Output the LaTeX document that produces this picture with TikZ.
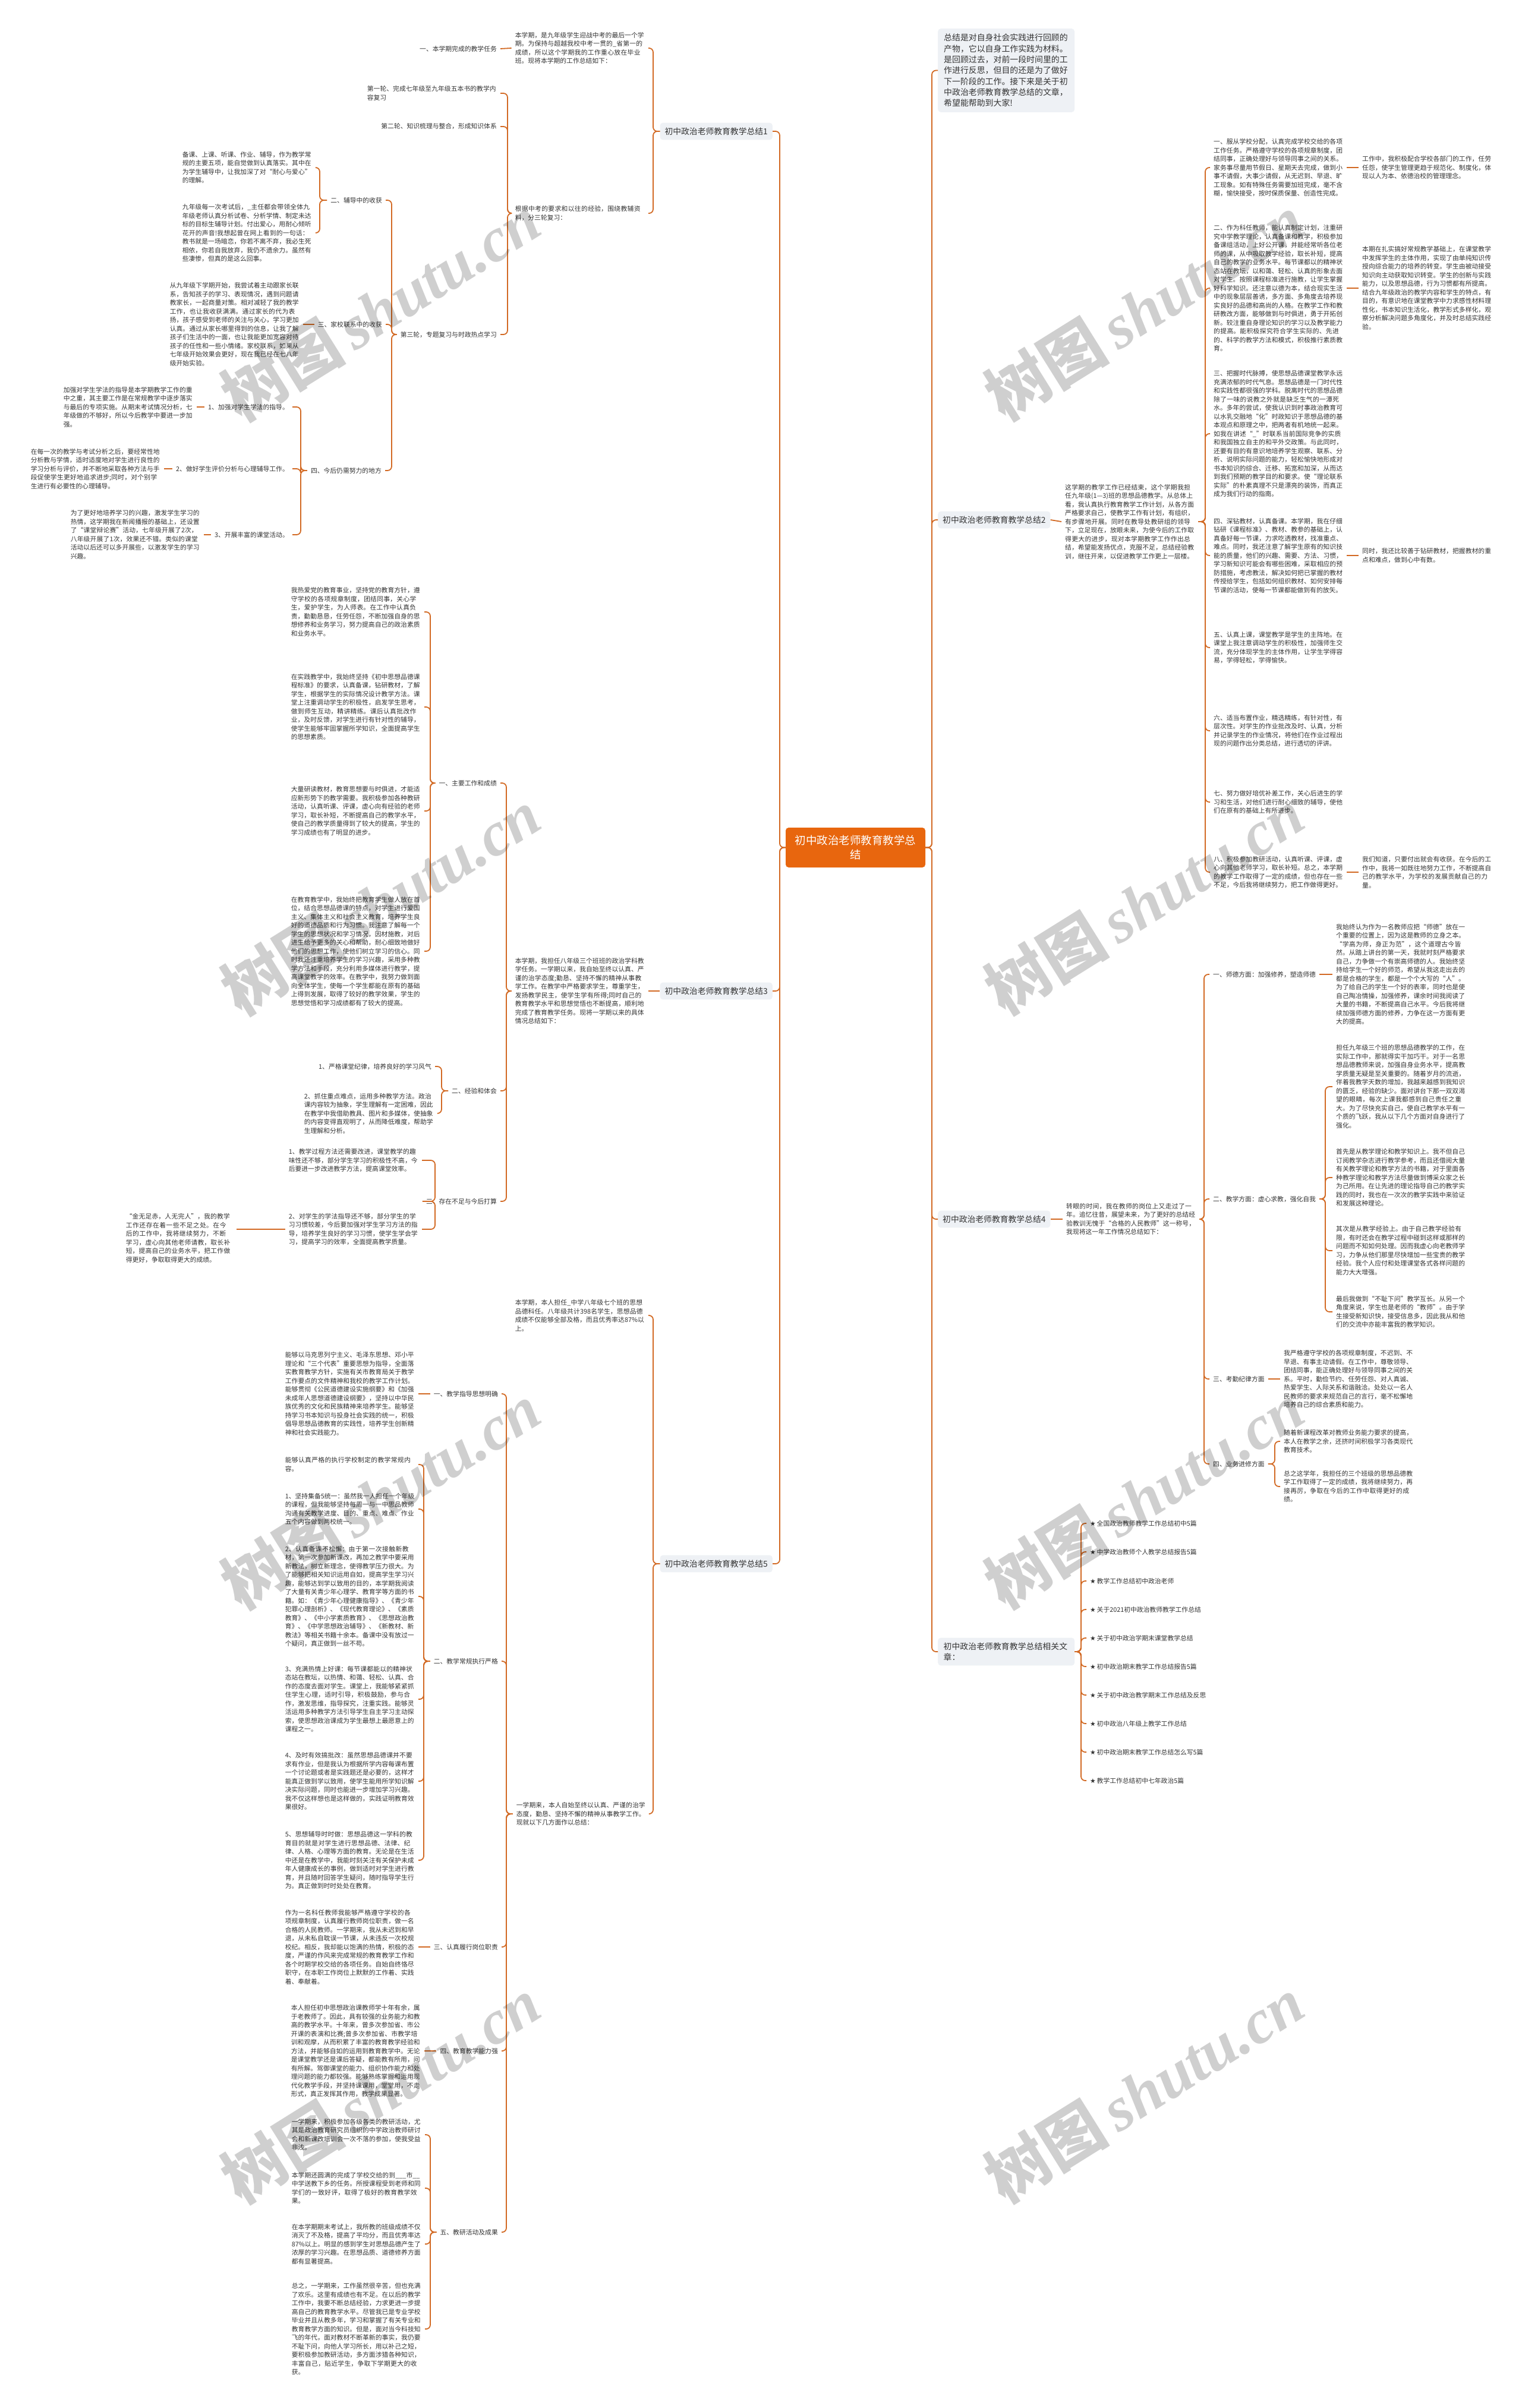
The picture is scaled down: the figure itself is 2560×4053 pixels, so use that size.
\documentclass[tikz,border=0pt]{standalone}
\usepackage{fontspec}
\setmainfont{Noto Sans CJK SC}
\newfontfamily\dejavu{DejaVu Sans}
\newfontfamily\wmserif{Liberation Serif}
\XeTeXlinebreaklocale "zh"
\XeTeXlinebreakskip=0pt plus 1pt
\definecolor{lnc}{RGB}{210,105,35}
\definecolor{ctrc}{RGB}{232,102,14}
\definecolor{boxc}{RGB}{238,241,245}
\definecolor{txc}{RGB}{51,51,51}
\newcommand{\fsb}{\fontsize{10.8}{14.5}\selectfont}
\newcommand{\fsm}{\fontsize{13.8}{18}\selectfont}
\newcommand{\lconn}[3]{\draw[ln] (#1.west) -- (#1.west -| #2) |- (#3.east);}
\newcommand{\rconn}[3]{\draw[ln] (#1.east) -- (#1.east -| #2) |- (#3.west);}
\newcommand{\str}{{\dejavu ★}\,}
\tikzset{
 ln/.style={draw=lnc, line width=1.8pt, rounded corners=7pt},
 tb/.style={font=\fsb, text=txc, text width=218pt, align=left, inner xsep=6pt, inner ysep=1pt},
 lb/.style={font=\fsb, text=txc, inner xsep=6pt, inner ysep=1pt},
 mainbox/.style={font=\fsm, text=txc, fill=boxc, rounded corners=5pt, inner xsep=8pt, inner ysep=8pt},
 ctrbox/.style={font=\fontsize{18.5}{23.5}\selectfont, text=white, fill=ctrc, rounded corners=5pt, text width=206pt, align=center, minimum width=235pt, minimum height=67pt},
 introbox/.style={font=\fontsize{13.9}{18.3}\selectfont, text=txc, fill=boxc, rounded corners=5pt, text width=210pt, align=left, inner xsep=10pt, inner ysep=9pt},
 wm/.style={font=\fontsize{105}{110}\selectfont\bfseries, text=black, text opacity=0.19, rotate=32}
}
\begin{document}
\begin{tikzpicture}[x=1pt,y=-1pt]
\fill[white] (0,0) rectangle (2560,4053);
\useasboundingbox (0,0) rectangle (2560,4053);
% spines
\coordinate (lsp) at (1312,0);
\coordinate (rsp) at (1568,0);
\coordinate (sp1) at (1099,0);
\coordinate (sp1b) at (854,0);
\coordinate (sp1c) at (659,0);
\coordinate (sp1d) at (538,0);
\coordinate (sp1f) at (506,0);
\coordinate (sp3) at (1099,0);
\coordinate (sp3b) at (852,0);
\coordinate (sp3c) at (724,0);
\coordinate (sp3d) at (743,0);
\coordinate (sp3e) at (732,0);
\coordinate (sp5) at (1099,0);
\coordinate (sp5b) at (852,0);
\coordinate (sp5d) at (713,0);
\coordinate (sp5g) at (724,0);
\coordinate (sp2b) at (2028,0);
\coordinate (sp4b) at (2026,0);
\coordinate (sp4d) at (2230,0);
\coordinate (sp4f) at (2145,0);
\coordinate (sp6) at (1819,0);

% center
\node[ctrbox] (ctr) at (1439.5,1426.5) {初中政治老师教育教学总\\结};

% ================= 总结1 =================
\node[mainbox, anchor=east] (s1) at (1300,221) {初中政治老师教育教学总结1};
\node[tb, anchor=east] (t1a) at (1091,81) {本学期，是九年级学生迎战中考的最后一个学期。为保持与超越我校中考一贯的\_省第一的成绩，所以这个学期我的工作重心放在毕业班。现将本学期的工作总结如下：};
\node[lb, anchor=east] (l1a) at (842,82) {一、本学期完成的教学任务};
\node[tb, anchor=east] (t1b) at (1091,359) {根据中考的要求和以往的经验，围绕教辅资料，分三轮复习：};
\node[tb, anchor=east] (l1b1) at (842,157) {第一轮、完成七年级至九年级五本书的教学内容复习};
\node[lb, anchor=east] (l1b2) at (842,213) {第二轮、知识梳理与整合，形成知识体系};
\node[lb, anchor=east] (l1b3) at (842,563) {第三轮，专题复习与时政热点学习};
\node[lb, anchor=east] (l1c1) at (649,337) {二、辅导中的收获};
\node[lb, anchor=east] (l1c2) at (649,546) {三、家校联系中的收获};
\node[lb, anchor=east] (l1c3) at (648,792) {四、今后仍需努力的地方};
\node[tb, anchor=east] (t1d1) at (531,282) {备课、上课、听课、作业、辅导，作为教学常规的主要五项，能自觉做到认真落实。其中在为学生辅导中，让我加深了对“耐心与爱心”的理解。};
\node[tb, anchor=east] (t1d2) at (531,392) {九年级每一次考试后，\_主任都会带领全体九年级老师认真分析试卷、分析学情、制定未达标的目标生辅导计划。付出爱心，用耐心倾听花开的声音!我想起曾在网上看到的一句话：教书就是一场暗恋，你若不离不弃，我必生死相依，你若自我放弃，我仍不遗余力。虽然有些凄惨，但真的是这么回事。};
\node[tb, anchor=east] (t1e) at (510,546) {从九年级下学期开始，我尝试着主动跟家长联系，告知孩子的学习、表现情况，遇到问题请教家长，一起商量对策。相对减轻了我的教学工作，也让我收获满满。通过家长的代为表扬，孩子感受到老师的关注与关心，学习更加认真。通过从家长哪里得到的信息，让我了解孩子们生活中的一面，也让我能更加宽容对待孩子的任性和一些小情绪。家校联系，如果从七年级开始效果会更好，现在我已经在七八年级开始实验。};
\node[lb, anchor=east] (l1f1) at (492,685) {1、加强对学生学法的指导。};
\node[lb, anchor=east] (l1f2) at (492,789) {2、做好学生评价分析与心理辅导工作。};
\node[lb, anchor=east] (l1f3) at (492,900) {3、开展丰富的课堂活动。};
\node[tb, anchor=east] (t1f1) at (331,685) {加强对学生学法的指导是本学期教学工作的重中之重，其主要工作是在常规教学中逐步落实与最后的专项实施。从期末考试情况分析，七年级做的不够好，所以今后教学中要进一步加强。};
\node[tb, anchor=east] (t1f2) at (276,789) {在每一次的教学与考试分析之后，要经常性地分析教与学情，适时适度地对学生进行良性的学习分析与评价，并不断地采取各种方法与手段促使学生更好地追求进步;同时，对个别学生进行有必要性的心理辅导。};
\node[tb, anchor=east] (t1f3) at (343,900) {为了更好地培养学习的兴趣，激发学生学习的热情，这学期我在新闻播报的基础上，还设置了“课堂辩论赛”活动，七年级开展了2次，八年级开展了1次，效果还不错。类似的课堂活动以后还可以多开展些，以激发学生的学习兴趣。};

% ================= 总结3 =================
\node[mainbox, anchor=east] (s3) at (1300,1668) {初中政治老师教育教学总结3};
\node[tb, anchor=east] (t3a) at (1091,1668) {本学期，我担任八年级三个班班的政治学科教学任务。一学期以来，我自始至终以认真、严谨的治学态度;勤恳、坚持不懈的精神从事教学工作。在教学中严格要求学生，尊重学生，发扬教学民主，使学生学有所得;同时自己的教育教学水平和思想觉悟也不断提高，顺利地完成了教育教学任务。现将一学期以来的具体情况总结如下：};
\node[lb, anchor=east] (l3b1) at (842,1318) {一、主要工作和成绩};
\node[lb, anchor=east] (l3b2) at (842,1836) {二、经验和体会};
\node[lb, anchor=east] (l3b3) at (842,2022) {三、存在不足与今后打算};
\node[tb, anchor=east] (t3c1) at (714,1030) {我热爱党的教育事业，坚持党的教育方针，遵守学校的各项规章制度，团结同事，关心学生，爱护学生，为人师表。在工作中认真负责，勤勤恳恳，任劳任怨，不断加强自身的思想修养和业务学习，努力提高自己的政治素质和业务水平。};
\node[tb, anchor=east] (t3c2) at (714,1190) {在实践教学中，我始终坚持《初中思想品德课程标准》的要求，认真备课，钻研教材，了解学生，根据学生的实际情况设计教学方法。课堂上注重调动学生的积极性，启发学生思考，做到师生互动，精讲精练。课后认真批改作业，及时反馈，对学生进行有针对性的辅导，使学生能够牢固掌握所学知识，全面提高学生的思想素质。};
\node[tb, anchor=east] (t3c3) at (714,1365) {大量研读教材，教育思想要与时俱进，才能适应新形势下的教学需要。我积极参加各种教研活动，认真听课、评课，虚心向有经验的老师学习，取长补短，不断提高自己的教学水平，使自己的教学质量得到了较大的提高，学生的学习成绩也有了明显的进步。};
\node[tb, anchor=east] (t3c4) at (714,1601) {在教育教学中，我始终把教育学生做人放在首位，结合思想品德课的特点，对学生进行爱国主义、集体主义和社会主义教育，培养学生良好的道德品质和行为习惯。我注意了解每一个学生的思想状况和学习情况，因材施教，对后进生给予更多的关心和帮助，耐心细致地做好他们的思想工作，使他们树立学习的信心。同时我还注重培养学生的学习兴趣，采用多种教学方法和手段，充分利用多媒体进行教学，提高课堂教学的效率。在教学中，我努力做到面向全体学生，使每一个学生都能在原有的基础上得到发展，取得了较好的教学效果，学生的思想觉悟和学习成绩都有了较大的提高。};
\node[lb, anchor=east] (t3d1) at (732,1795) {1、严格课堂纪律，培养良好的学习风气};
\node[tb, anchor=east] (t3d2) at (736,1874) {2、抓住重点难点，运用多种教学方法。政治课内容较为抽象，学生理解有一定困难，因此在教学中我借助教具、图片和多媒体，使抽象的内容变得直观明了，从而降低难度，帮助学生理解和分析。};
\node[tb, anchor=east] (t3e1) at (710,1953) {1、教学过程方法还需要改进，课堂教学的趣味性还不够，部分学生学习的积极性不高，今后要进一步改进教学方法，提高课堂效率。};
\node[tb, anchor=east] (t3e2) at (710,2069) {2、对学生的学法指导还不够，部分学生的学习习惯较差，今后要加强对学生学习方法的指导，培养学生良好的学习习惯，使学生学会学习，提高学习的效率，全面提高教学质量。};
\node[tb, anchor=east, text width=180pt] (t3e3) at (398,2084) {“金无足赤，人无完人”，我的教学工作还存在着一些不足之处。在今后的工作中，我将继续努力，不断学习，虚心向其他老师请教，取长补短，提高自己的业务水平，把工作做得更好，争取取得更大的成绩。};

% ================= 总结5 =================
\node[mainbox, anchor=east] (s5) at (1300,2632) {初中政治老师教育教学总结5};
\node[tb, anchor=east] (t5a) at (1091,2214) {本学期，本人担任\_中学八年级七个班的思想品德科任。八年级共计398名学生，思想品德成绩不仅能够全部及格，而且优秀率达87\%以上。};
\node[tb, anchor=east] (t5b) at (1093,3053) {一学期来，本人自始至终以认真、严谨的治学态度，勤恳、坚持不懈的精神从事教学工作。现就以下几方面作以总结：};
\node[lb, anchor=east] (l5b1) at (844,2346) {一、教学指导思想明确};
\node[lb, anchor=east] (l5b2) at (844,2796) {二、教学常规执行严格};
\node[lb, anchor=east] (l5b3) at (844,3277) {三、认真履行岗位职责};
\node[lb, anchor=east] (l5b4) at (844,3452) {四、教育教学能力强};
\node[lb, anchor=east] (l5b5) at (844,3757) {五、教研活动及成果};
\node[tb, anchor=east] (t5c) at (704,2346) {能够以马克思列宁主义、毛泽东思想、邓小平理论和“三个代表”重要思想为指导，全面落实教育教学方针，实施有关市教育局关于教学工作要点的文件精神和我校的教学工作计划。能够贯彻《公民道德建设实施纲要》和《加强未成年人思想道德建设纲要》，坚持以中华民族优秀的文化和民族精神来培养学生。能够坚持学习书本知识与投身社会实践的统一，积极倡导思想品德教育的实践性，培养学生创新精神和社会实践能力。};
\node[tb, anchor=east] (t5d1) at (704,2465) {能够认真严格的执行学校制定的教学常规内容。};
\node[tb, anchor=east] (t5d2) at (704,2540) {1、坚持集备5统一：虽然我一人担任一个年级的课程，但我能够坚持每周一与一中思品教师沟通有关教学进度、目的、重点、难点、作业五个内容做到两校统一。};
\node[tb, anchor=east] (t5d3) at (704,2687) {2、认真备课不松懈：由于第一次接触新教材，第一次参加新课改，再加之教学中要采用新教法，树立新理念，使得教学压力很大。为了能够把相关知识运用自如，提高学生学习兴趣，能够达到学以致用的目的，本学期我阅读了大量有关青少年心理学、教育学等方面的书籍。如：《青少年心理健康指导》、《青少年犯罪心理剖析》、《现代教育理论》、《素质教育》、《中小学素质教育》、《思想政治教育》、《中学思想政治辅导》、《新教材、新教法》等相关书籍十余本。备课中没有放过一个疑问，真正做到一丝不苟。};
\node[tb, anchor=east] (t5d4) at (704,2860) {3、充满热情上好课：每节课都能以的精神状态站在教坛，以热情、和蔼、轻松、认真、合作的态度去面对学生。课堂上，我能够紧紧抓住学生心理，适时引导，积极鼓励，参与合作，激发思维，指导探究，注重实践。能够灵活运用多种教学方法引导学生自主学习主动探索，使思想政治课成为学生最想上最愿意上的课程之一。};
\node[tb, anchor=east] (t5d5) at (704,2998) {4、及时有效搞批改：虽然思想品德课并不要求有作业，但是我认为根据所学内容每课布置一个讨论题或者是实践题还是必要的，这样才能真正做到学以致用，使学生能用所学知识解决实际问题，同时也能进一步增加学习兴趣。我不仅这样想也是这样做的，实践证明教育效果很好。};
\node[tb, anchor=east] (t5d6) at (704,3131) {5、思想辅导时时做：思想品德这一学科的教育目的就是对学生进行思想品德、法律、纪律、人格、心理等方面的教育。无论是在生活中还是在教学中，我能时刻关注有关保护未成年人健康成长的事例，做到适时对学生进行教育，并且随时回答学生疑问，随时指导学生行为。真正做到时时处处在教育。};
\node[tb, anchor=east] (t5e) at (704,3277) {作为一名科任教师我能够严格遵守学校的各项规章制度，认真履行教师岗位职责，做一名合格的人民教师。一学期来，我从未迟到和早退，从未私自耽误一节课，从未违反一次校规校纪。相反，我却能以饱满的热情，积极的态度，严谨的作风来完成常规的教育教学工作和各个时期学校交给的各项任务。自始自终恪尽职守，在本职工作岗位上默默的工作着、实践着、奉献着。};
\node[tb, anchor=east] (t5f) at (714,3452) {本人担任初中思想政治课教师学十年有余，属于老教师了。因此，具有较强的业务能力和教高的教学水平。十年来，曾多次参加省、市公开课的表演和比赛;曾多次参加省、市教学培训和观摩，从而积累了丰富的教育教学经验和方法，并能够自如的运用到教育教学中。无论是课堂教学还是课后答疑，都能教有所用，问有所解。驾御课堂的能力、组织协作能力和处理问题的能力都较强。能够熟练掌握和运用现代化教学手段，并坚持课课用，堂堂用，不走形式，真正发挥其作用，教学成果显著。};
\node[tb, anchor=east] (t5g1) at (715,3593) {一学期来，积极参加各级各类的教研活动，尤其是政治教育研究员组织的中学政治教师研讨会和新课改培训会一次不落的参加，使我受益非浅。};
\node[tb, anchor=east] (t5g2) at (715,3683) {本学期还圆满的完成了学校交给的到\_\_\_市\_\_中学送教下乡的任务。所授课程受到老师和同学们的一致好评，取得了极好的教育教学效果。};
\node[tb, anchor=east] (t5g3) at (715,3777) {在本学期期末考试上，我所教的班级成绩不仅消灭了不及格，提高了平均分，而且优秀率达87\%以上。明显的感到学生对思想品德产生了浓厚的学习兴趣。在思想品质、道德修养方面都有显著提高。};
\node[tb, anchor=east] (t5g4) at (715,3920) {总之，一学期来，工作虽然很辛苦，但也充满了欢乐。这里有成绩也有不足。在以后的教学工作中，我要不断总结经验，力求更进一步提高自己的教育教学水平。尽管我已是专业学校毕业并且从教多年，学习和掌握了有关专业和教育教学方面的知识。但是，面对当今科技知飞的年代，面对教材不断革新的事实，我仍要不耻下问，向他人学习所长，用以补己之短，要积极参加教研活动，多方面涉猎各种知识，丰富自己，贴近学生，争取下学期更大的收获。};

% ================= right: intro =================
\node[introbox, anchor=west] (intro) at (1578,118.5) {总结是对自身社会实践进行回顾的\\产物，它以自身工作实践为材料。\\是回顾过去，对前一段时间里的工\\作进行反思，但目的还是为了做好\\下一阶段的工作。接下来是关于初\\中政治老师教育教学总结的文章，\\希望能帮助到大家!};

% ================= 总结2 =================
\node[mainbox, anchor=west] (s2) at (1578,875) {初中政治老师教育教学总结2};
\node[tb, anchor=west] (t2a) at (1786,878) {这学期的教学工作已经结束，这个学期我担任九年级(1—3)班的思想品德教学。从总体上看，我认真执行教育教学工作计划，从各方面严格要求自己，使教学工作有计划，有组织，有步骤地开展。同时在教导处教研组的领导下，立足现在，放眼未来，为使今后的工作取得更大的进步，现对本学期教学工作作出总结，希望能发扬优点，克服不足，总结经验教训，继往开来，以促进教学工作更上一层楼。};
\node[tb, anchor=west] (t2b1) at (2036,282) {一、服从学校分配，认真完成学校交给的各项工作任务。严格遵守学校的各项规章制度，团结同事，正确处理好与领导同事之间的关系。家务事尽量用节假日、星期天去完成，做到小事不请假，大事少请假，从无迟到、早退、旷工现象。如有特殊任务需要加班完成，毫不含糊，愉快接受，按时保质保量、创造性完成。};
\node[tb, anchor=west] (t2b2) at (2036,485) {二、作为科任教师，能认真制定计划，注重研究中学教学理论，认真备课和教学，积极参加备课组活动，上好公开课，并能经常听各位老师的课，从中吸取教学经验，取长补短，提高自己的教学的业务水平。每节课都以的精神状态站在教坛，以和蔼、轻松、认真的形象去面对学生。按照课程标准进行施教，让学生掌握好科学知识。还注意以德为本，结合现实生活中的现象层层善诱，多方面、多角度去培养现实良好的品德和高尚的人格。在教学工作和教研教改方面，能够做到与时俱进，勇于开拓创新。较注重自身理论知识的学习以及教学能力的提高。能积极探究符合学生实际的、先进的、科学的教学方法和模式，积极推行素质教育。};
\node[tb, anchor=west] (t2b3) at (2036,730) {三、把握时代脉搏，使思想品德课堂教学永远充满浓郁的时代气息。思想品德是一门时代性和实践性都很强的学科。脱离时代的思想品德除了一味的说教之外就是缺乏生气的一潭死水。多年的尝试，使我认识到时事政治教育可以水乳交融地“化”时政知识于思想品德的基本观点和原理之中，把两者有机地统一起来。如我在讲述“\_”时联系当前国际竞争的实质和我国独立自主的和平外交政策。与此同时，还要有目的有意识地培养学生观察、联系、分析、说明实际问题的能力，轻松愉快地形成对书本知识的综合、迁移、拓宽和加深，从而达到我们预期的教学目的和要求。使“理论联系实际”的朴素真理不只是漂亮的装饰，而真正成为我们行动的指南。};
\node[tb, anchor=west] (t2b4) at (2036,935) {四、深钻教材，认真备课。本学期，我在仔细钻研《课程标准》、教材、教参的基础上，认真备好每一节课，力求吃透教材，找准重点、难点。同时，我还注意了解学生原有的知识技能的质量，他们的兴趣、需要、方法、习惯，学习新知识可能会有哪些困难，采取相应的预防措施，考虑教法，解决如何把已掌握的教材传授给学生，包括如何组织教材、如何安排每节课的活动，使每一节课都能做到有的放矢。};
\node[tb, anchor=west] (t2b5) at (2036,1090) {五、认真上课，课堂教学是学生的主阵地。在课堂上我注意调动学生的积极性，加强师生交流，充分体现学生的主体作用，让学生学得容易，学得轻松，学得愉快。};
\node[tb, anchor=west] (t2b6) at (2036,1230) {六、适当布置作业，精选精练，有针对性，有层次性。对学生的作业批改及时、认真，分析并记录学生的作业情况，将他们在作业过程出现的问题作出分类总结，进行透切的评讲。};
\node[tb, anchor=west] (t2b7) at (2036,1350) {七、努力做好培优补差工作，关心后进生的学习和生活，对他们进行耐心细致的辅导，使他们在原有的基础上有所进步。};
\node[tb, anchor=west] (t2b8) at (2036,1468) {八、积极参加教研活动，认真听课、评课，虚心向其他老师学习，取长补短。总之，本学期的教学工作取得了一定的成绩，但也存在一些不足，今后我将继续努力，把工作做得更好。};
\node[tb, anchor=west] (t2c1) at (2286,282) {工作中，我积极配合学校各部门的工作，任劳任怨，使学生管理更趋于规范化、制度化，体现以人为本、依德治校的管理理念。};
\node[tb, anchor=west] (t2c2) at (2286,485) {本期在扎实搞好常规教学基础上，在课堂教学中发挥学生的主体作用，实现了由单纯知识传授向综合能力的培养的转变。学生由被动接受知识向主动获取知识转变。学生的创新与实践能力，以及思想品德，行为习惯都有所提高。结合九年级政治的教学内容和学生的特点，有目的，有意识地在课堂教学中力求感性材料理性化，书本知识生活化，教学形式多样化，观察分析解决问题多角度化，并及时总结实践经验。};
\node[tb, anchor=west] (t2c4) at (2286,935) {同时，我还比较善于钻研教材，把握教材的重点和难点，做到心中有数。};
\node[tb, anchor=west] (t2c8) at (2286,1468) {我们知道，只要付出就会有收获。在今后的工作中，我将一如既往地努力工作，不断提高自己的教学水平，为学校的发展贡献自己的力量。};

% ================= 总结4 =================
\node[mainbox, anchor=west] (s4) at (1578,2052) {初中政治老师教育教学总结4};
\node[tb, anchor=west] (t4a) at (1788,2052) {转眼的时间，我在教师的岗位上又走过了一年。追忆往昔，展望未来，为了更好的总结经验教训无愧于“合格的人民教师”这一称号，我现将这一年工作情况总结如下：};
\node[lb, anchor=west] (l4b1) at (2035,1640) {一、师德方面：加强修养，塑造师德};
\node[lb, anchor=west] (l4b2) at (2035,2018) {二、教学方面：虚心求教，强化自我};
\node[lb, anchor=west] (l4b3) at (2035,2321) {三、考勤纪律方面};
\node[lb, anchor=west] (l4b4) at (2035,2464) {四、业务进修方面};
\node[tb, anchor=west] (t4c) at (2242,1640) {我始终认为作为一名教师应把“师德”放在一个重要的位置上，因为这是教师的立身之本。“学高为师，身正为范”，这个道理古今皆然。从踏上讲台的第一天，我就时刻严格要求自己，力争做一个有崇高师德的人。我始终坚持给学生一个好的师范，希望从我这走出去的都是合格的学生，都是一个个大写的“人”。为了给自己的学生一个好的表率，同时也是使自己陶冶情操，加强修养，课余时间我阅读了大量的书籍，不断提高自己水平。今后我将继续加强师德方面的修养，力争在这一方面有更大的提高。};
\node[tb, anchor=west] (t4d1) at (2242,1829) {担任九年级三个班的思想品德教学的工作，在实际工作中，那就得实干加巧干。对于一名思想品德教师来说，加强自身业务水平，提高教学质量无疑是至关重要的。随着岁月的流逝，伴着我教学天数的增加，我越来越感到我知识的匮乏，经验的缺少。面对讲台下那一双双渴望的眼睛，每次上课我都感到自己责任之重大。为了尽快充实自己，使自己教学水平有一个质的飞跃，我从以下几个方面对自身进行了强化。};
\node[tb, anchor=west] (t4d2) at (2242,1982) {首先是从教学理论和教学知识上。我不但自己订阅教学杂志进行教学参考，而且还借阅大量有关教学理论和教学方法的书籍，对于里面各种教学理论和教学方法尽量做到博采众家之长为己所用。在让先进的理论指导自己的教学实践的同时，我也在一次次的教学实践中来验证和发展这种理论。};
\node[tb, anchor=west] (t4d3) at (2242,2105) {其次是从教学经验上。由于自己教学经验有限，有时还会在教学过程中碰到这样或那样的问题而不知如何处理。因而我虚心向老教师学习，力争从他们那里尽快增加一些宝贵的教学经验。我个人应付和处理课堂各式各样问题的能力大大增强。};
\node[tb, anchor=west] (t4d4) at (2242,2208) {最后我做到“不耻下问”教学互长。从另一个角度来说，学生也是老师的“教师”。由于学生接受新知识快，接受信息多，因此我从和他们的交流中亦能丰富我的教学知识。};
\node[tb, anchor=west] (t4e) at (2154,2321) {我严格遵守学校的各项规章制度，不迟到、不早退、有事主动请假。在工作中，尊敬领导、团结同事，能正确处理好与领导同事之间的关系。平时，勤俭节约、任劳任怨、对人真诚、热爱学生、人际关系和谐融洽。处处以一名人民教师的要求来规范自己的言行，毫不松懈地培养自己的综合素质和能力。};
\node[tb, anchor=west] (t4f1) at (2154,2426) {随着新课程改革对教师业务能力要求的提高，本人在教学之余，还挤时间积极学习各类现代教育技术。};
\node[tb, anchor=west] (t4f2) at (2154,2502) {总之这学年，我担任的三个班级的思想品德教学工作取得了一定的成绩，我将继续努力，再接再厉，争取在今后的工作中取得更好的成绩。};

% ================= 相关文章 =================
\node[mainbox, anchor=west, text width=211pt, align=left, inner xsep=9.5pt] (s6) at (1578,2780) {初中政治老师教育教学总结相关文章：};
\node[lb, anchor=west] (r1) at (1828,2564) {\str 全国政治教师教学工作总结初中5篇};
\node[lb, anchor=west] (r2) at (1828,2612) {\str 中学政治教师个人教学总结报告5篇};
\node[lb, anchor=west] (r3) at (1828,2661) {\str 教学工作总结初中政治老师};
\node[lb, anchor=west] (r4) at (1828,2709) {\str 关于2021初中政治教师教学工作总结};
\node[lb, anchor=west] (r5) at (1828,2757) {\str 关于初中政治学期末课堂教学总结};
\node[lb, anchor=west] (r6) at (1828,2805) {\str 初中政治期末教学工作总结报告5篇};
\node[lb, anchor=west] (r7) at (1828,2853) {\str 关于初中政治教学期末工作总结及反思};
\node[lb, anchor=west] (r8) at (1828,2901) {\str 初中政治八年级上教学工作总结};
\node[lb, anchor=west] (r9) at (1828,2949) {\str 初中政治期末教学工作总结怎么写5篇};
\node[lb, anchor=west] (r10) at (1828,2997) {\str 教学工作总结初中七年政治5篇};

% ================= connectors =================
\foreach \c in {s1,s3,s5} {\lconn{ctr}{lsp}{\c}}
\foreach \c in {intro,s2,s4,s6} {\rconn{ctr}{rsp}{\c}}
% 总结1
\lconn{s1}{sp1}{t1a}
\lconn{s1}{sp1}{t1b}
\draw[ln] (t1a.west) -- (l1a.east);
\foreach \c in {l1b1,l1b2,l1b3} {\lconn{t1b}{sp1b}{\c}}
\foreach \c in {l1c1,l1c2,l1c3} {\lconn{l1b3}{sp1c}{\c}}
\foreach \c in {t1d1,t1d2} {\lconn{l1c1}{sp1d}{\c}}
\draw[ln] (l1c2.west) -- (t1e.east);
\foreach \c in {l1f1,l1f2,l1f3} {\lconn{l1c3}{sp1f}{\c}}
\draw[ln] (l1f1.west) -- (t1f1.east);
\draw[ln] (l1f2.west) -- (t1f2.east);
\draw[ln] (l1f3.west) -- (t1f3.east);
% 总结3
\draw[ln] (s3.west) -- (t3a.east);
\foreach \c in {l3b1,l3b2,l3b3} {\lconn{t3a}{sp3b}{\c}}
\foreach \c in {t3c1,t3c2,t3c3,t3c4} {\lconn{l3b1}{sp3c}{\c}}
\foreach \c in {t3d1,t3d2} {\lconn{l3b2}{sp3d}{\c}}
\foreach \c in {t3e1,t3e2} {\lconn{l3b3}{sp3e}{\c}}
\draw[ln] (t3e2.west) -- (t3e3.east |- t3e2.west);
% 总结5
\lconn{s5}{sp5}{t5a}
\lconn{s5}{sp5}{t5b}
\foreach \c in {l5b1,l5b2,l5b3,l5b4,l5b5} {\lconn{t5b}{sp5b}{\c}}
\draw[ln] (l5b1.west) -- (t5c.east);
\foreach \c in {t5d1,t5d2,t5d3,t5d4,t5d5,t5d6} {\lconn{l5b2}{sp5d}{\c}}
\draw[ln] (l5b3.west) -- (t5e.east);
\draw[ln] (l5b4.west) -- (t5f.east);
\foreach \c in {t5g1,t5g2,t5g3,t5g4} {\lconn{l5b5}{sp5g}{\c}}
% 总结2
\draw[ln] (s2.east) -- (t2a.west);
\foreach \c in {t2b1,t2b2,t2b3,t2b4,t2b5,t2b6,t2b7,t2b8} {\rconn{t2a}{sp2b}{\c}}
\draw[ln] (t2b1.east) -- (t2c1.west);
\draw[ln] (t2b2.east) -- (t2c2.west);
\draw[ln] (t2b4.east) -- (t2c4.west);
\draw[ln] (t2b8.east) -- (t2c8.west);
% 总结4
\draw[ln] (s4.east) -- (t4a.west);
\foreach \c in {l4b1,l4b2,l4b3,l4b4} {\rconn{t4a}{sp4b}{\c}}
\draw[ln] (l4b1.east) -- (t4c.west);
\foreach \c in {t4d1,t4d2,t4d3,t4d4} {\rconn{l4b2}{sp4d}{\c}}
\draw[ln] (l4b3.east) -- (t4e.west);
\foreach \c in {t4f1,t4f2} {\rconn{l4b4}{sp4f}{\c}}
% 相关
\foreach \c in {r1,r2,r3,r4,r5,r6,r7,r8,r9,r10} {\rconn{s6}{sp6}{\c}}

% watermarks
\foreach \i/\xx/\yy in {1/640/518,2/1925/517,3/640/1518,4/1925/1517,5/640/2518,6/1925/2517,7/640/3518,8/1925/3517} {
  \node[wm] (wm\i) at (\xx,\yy) {树图\,{\wmserif\itshape shutu.cn}};
}
\end{tikzpicture}
\end{document}
